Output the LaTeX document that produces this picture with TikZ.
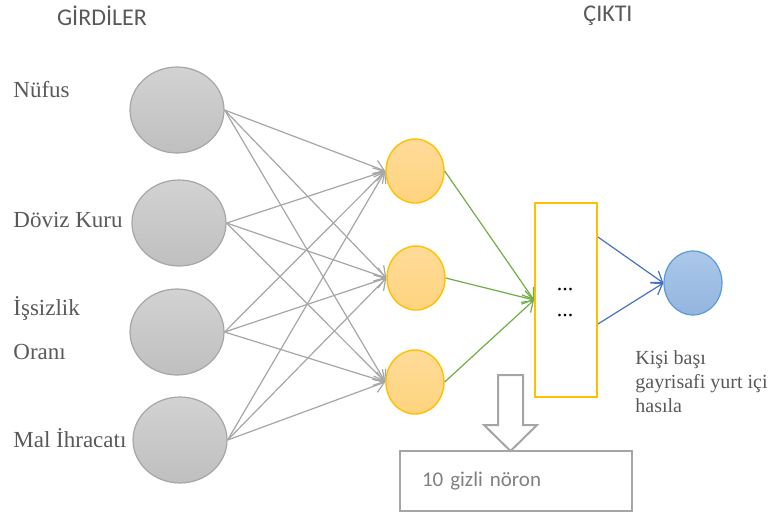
\documentclass[tikz,border=0pt]{standalone}
\usepackage{fontspec}
\setmainfont{Liberation Serif}
\newfontfamily\calibri{Carlito}
\usetikzlibrary{
arrows.meta,
shapes.geometric,
}
\definecolor{circgray}{HTML}{A6A6A6}
\definecolor{linegray}{HTML}{A6A6A6}
\definecolor{labelgray}{HTML}{595959}
\definecolor{boxgray}{HTML}{A5A5A5}
\definecolor{gold}{HTML}{FFC000}
\definecolor{peachtop}{HTML}{FFDB98}
\definecolor{peachbot}{HTML}{FFD47F}
\definecolor{leafgreen}{HTML}{70AD47}
\definecolor{lineblue}{HTML}{4472C4}
\definecolor{ringblue}{HTML}{5B9BD5}
\definecolor{skytop}{HTML}{ABC8E9}
\definecolor{skybot}{HTML}{93B5E0}
\tikzset{
every node/.style={align=center},
girdi/.style={ellipse, draw=circgray, line width=0.6pt, top color=gray!35, bottom color=gray!50, minimum width=47pt, minimum height=43pt, inner sep=0pt},
gizli/.style={ellipse, draw=gold, line width=0.7pt, top color=peachtop, bottom color=peachbot, minimum width=29pt, minimum height=32pt, inner sep=0pt},
cikti/.style={ellipse, draw=ringblue, line width=0.6pt, top color=skytop, bottom color=skybot, minimum width=29pt, minimum height=32pt, inner sep=0pt},
etiket/.style={anchor=west, inner sep=0pt, text=labelgray, font=\fontsize{11.5}{14}\selectfont},
baslik/.style={text=labelgray, font=\calibri\fontsize{12}{14}\selectfont},
>={Straight Barb[length=5pt,width=7pt]},
}
\begin{document}
\begin{tikzpicture}[x=0.5pt, y=-0.5pt]
    \useasboundingbox (0,0) rectangle (778,516);

    \node [baslik] (girdiler) at (102,16) {GİRDİLER};
    \node [baslik] (ciktilar) at (608,16) {ÇIKTI};

    \node [girdi] (in1) at (177,110) {};
    \node [girdi] (in2) at (179,223) {};
    \node [girdi] (in3) at (177,332) {};
    \node [girdi] (in4) at (180,440) {};

    \node [etiket] (nufus) at (13,90) {Nüfus};
    \node [etiket] (doviz) at (13,220) {Döviz Kuru};
    \node [etiket] (issizlik) at (13,308) {İşsizlik};
    \node [etiket] (orani) at (13,352) {Oranı};
    \node [etiket] (ihracat) at (13,438) {Mal İhracatı};

    \node [gizli] (h1) at (415,171) {};
    \node [gizli] (h2) at (416,278) {};
    \node [gizli] (h3) at (415,382) {};

    \node [draw=gold, line width=1pt, minimum width=31pt, minimum height=97pt, inner sep=0pt] (katman) at (566,300) {};
    \node [font=\fontsize{11}{13}\selectfont] (nokta1) at (565,290) {...};
    \node [font=\fontsize{11}{13}\selectfont] (nokta2) at (565,316) {...};

    \node [cikti] (out) at (693,283) {};
    \node [etiket, font=\fontsize{10}{12}\selectfont, align=left] (gsyh) at (635,382) {Kişi başı\\gayrisafi yurt içi\\hasıla};

    \foreach \i in {1,...,4}
        \foreach \j in {1,2,3}
            \draw [->, linegray, line width=0.6pt] (in\i.east) -- (h\j.west);
    \foreach \j in {1,2,3}
        \draw [->, leafgreen, line width=0.6pt] (h\j.east) -- (katman.west);
    \draw [->, lineblue, line width=0.6pt] ([yshift=31.5pt]katman.east) -- (out.west);
    \draw [->, lineblue, line width=0.6pt] ([yshift=-12pt]katman.east) -- (out.west);

    % block arrow
    \draw [boxgray, line width=1pt, line join=miter] (498,375) -- (523,375) -- (523,425) -- (537,425) -- (510.5,451) -- (484,425) -- (498,425) -- cycle;
    \node [draw=boxgray, line width=1pt, minimum width=116pt, minimum height=30pt, inner xsep=11pt, text width=94pt, align=left, text=gray, font=\calibri\fontsize{10.5}{13}\selectfont] (gizlinoron) at (516,481) {10 gizli nöron};
\end{tikzpicture}
\end{document}
